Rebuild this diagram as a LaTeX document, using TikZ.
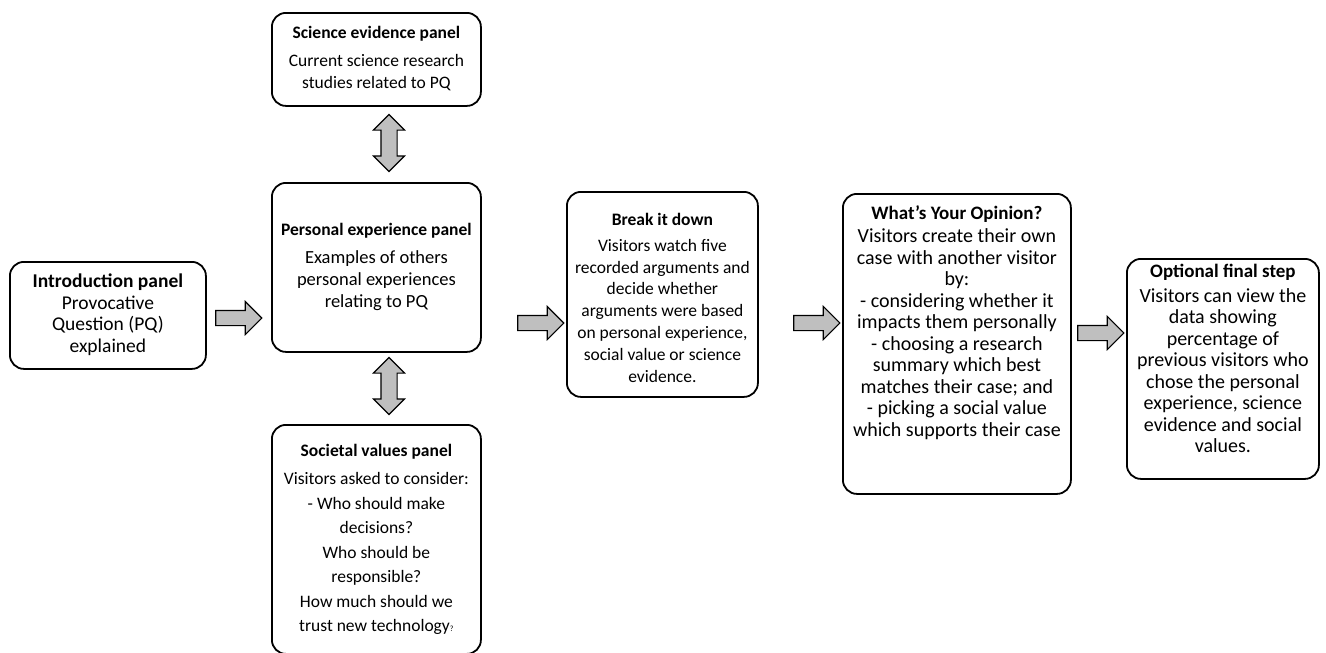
\documentclass[tikz,border=0pt]{standalone}
\usepackage{fontspec}
\setmainfont{Carlito}
\usetikzlibrary{shapes.arrows}
\begin{document}
\begin{tikzpicture}[x=1pt,y=-1pt,
  panel/.style={draw=black, line width=1.8pt, rounded corners=14pt, fill=white,
    inner sep=0pt, anchor=north west},
  ptext/.style={align=center, inner sep=0pt, anchor=north},
  rarrow/.style={single arrow, draw=black, fill=black!25, line width=1.1pt, minimum height=46pt,
    inner sep=7pt, single arrow head extend=9pt, single arrow tip angle=90},
  varrow/.style={double arrow, draw=black, fill=black!25, line width=1.1pt, minimum height=57pt,
    inner sep=7.5pt, double arrow head extend=7.5pt, double arrow tip angle=90, rotate=90}]
\useasboundingbox (0,0) rectangle (1326,653);
% boxes
\node[panel, minimum width=196pt, minimum height=107pt] (intro) at (9,261) {};
\node[panel, minimum width=209pt, minimum height=93pt] (science) at (271,12) {};
\node[panel, minimum width=209pt, minimum height=169pt] (personal) at (271,182) {};
\node[panel, minimum width=209pt, minimum height=229pt] (societal) at (271,424) {};
\node[panel, minimum width=191pt, minimum height=205pt] (break) at (566,191) {};
\node[panel, minimum width=228pt, minimum height=300pt] (opinion) at (842,193) {};
\node[panel, minimum width=192pt, minimum height=220pt] (final) at (1126,258) {};
% texts
\node[ptext, font=\fontsize{19.5}{21.5}\selectfont] (introT) at ([yshift=-13pt]intro.north)
  {\textbf{Introduction panel}\\Provocative\\Question (PQ)\\explained};
\node[ptext, font=\fontsize{17.5}{22}\selectfont] (scienceT) at ([yshift=-14pt]science.north)
  {\textbf{Science evidence panel}\\[6pt]Current science research\\studies related to PQ};
\node[ptext, font=\fontsize{18.5}{22}\selectfont] (personalT) at ([yshift=-41pt]personal.north)
  {\textbf{\fontsize{17.5}{22}\selectfont Personal experience panel}\\[6pt]Examples of others\\personal experiences\\relating to PQ};
\node[ptext, font=\fontsize{17.5}{24.5}\selectfont] (societalT) at ([yshift=-20pt]societal.north)
  {\textbf{Societal values panel}\\[4pt]Visitors asked to consider:\\- Who should make\\decisions?\\Who should be\\responsible?\\How much should we\\trust new technology{\footnotesize ?}};
\node[ptext, font=\fontsize{17.5}{21.8}\selectfont] (breakT) at ([yshift=-22pt]break.north)
  {\textbf{Break it down}\\[4pt]Visitors watch five\\recorded arguments and\\decide whether\\arguments were based\\on personal experience,\\social value or science\\evidence.};
\node[ptext, font=\fontsize{20}{21.5}\selectfont] (opinionT) at ([yshift=-12pt]opinion.north)
  {\textbf{\fontsize{19}{21.5}\selectfont What’s Your Opinion?}\\[2pt]Visitors create their own\\case with another visitor\\by:\\- considering whether it\\impacts them personally\\- choosing a research\\summary which best\\matches their case; and\\- picking a social value\\which supports their case};
\node[ptext, font=\fontsize{20}{21.5}\selectfont] (finalT) at ([yshift=-6pt]final.north)
  {\textbf{\fontsize{19}{21.5}\selectfont Optional final step}\\[3pt]Visitors can view the\\data showing\\percentage of\\previous visitors who\\chose the personal\\experience, science\\evidence and social\\values.};
% block arrows
\node[rarrow] (a1) at (235,318) {};
\node[rarrow] (a2) at (537,323) {};
\node[rarrow] (a3) at (813,323) {};
\node[rarrow] (a4) at (1097,333) {};
\node[varrow] (v1) at (389,143) {};
\node[varrow] (v2) at (389,386) {};
\end{tikzpicture}
\end{document}
